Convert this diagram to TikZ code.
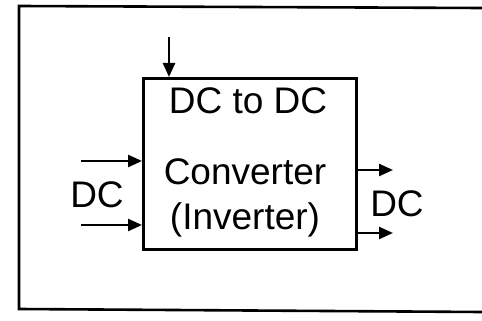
\documentclass[tikz,border=0pt]{standalone}
\usepackage{fontspec}
\setmainfont{Liberation Sans}
\usetikzlibrary{arrows.meta}
\begin{document}
\begin{tikzpicture}[x=1pt,y=-1pt,
  frame/.style={line width=2.6pt},
  blockbox/.style={draw,line width=2.8pt,minimum width=213pt,minimum height=171pt,anchor=north west,inner sep=0pt},
  sig/.style={line width=2.4pt,-{Triangle[length=14pt,width=12pt]}},
  lbl/.style={font=\fontsize{37}{44}\selectfont,inner sep=0pt}]
\useasboundingbox (0,0) rectangle (482,321);
% outer frame (open on the right)
\coordinate (ftr) at (482,8);
\coordinate (ftl) at (19,6);
\coordinate (fbl) at (19,309);
\coordinate (fbr) at (482,312);
\draw[frame] (ftr) -- (ftl) -- (fbl) -- (fbr);
% block
\node[blockbox] (blk) at (142,77) {};
\node[lbl] (t1) at (248,101) {DC to DC};
\node[lbl] (t2) at (245,172) {Converter};
\node[lbl] (t3) at (245,220) {(Inverter)};
% control arrow
\coordinate (cin) at (169,37);
\draw[sig] (cin) -- (cin |- blk.north);
% inputs
\coordinate (in1) at (81,161);
\coordinate (in2) at (81,225);
\draw[sig] (in1) -- (in1 -| blk.west);
\draw[sig] (in2) -- (in2 -| blk.west);
\node[lbl] (dcin) at (97,195) {DC};
% outputs
\coordinate (out1) at (393,170);
\coordinate (out2) at (393,233);
\draw[sig] (out1 -| blk.east) -- (out1);
\draw[sig] (out2 -| blk.east) -- (out2);
\node[lbl] (dcout) at (397,204) {DC};
\end{tikzpicture}
\end{document}
